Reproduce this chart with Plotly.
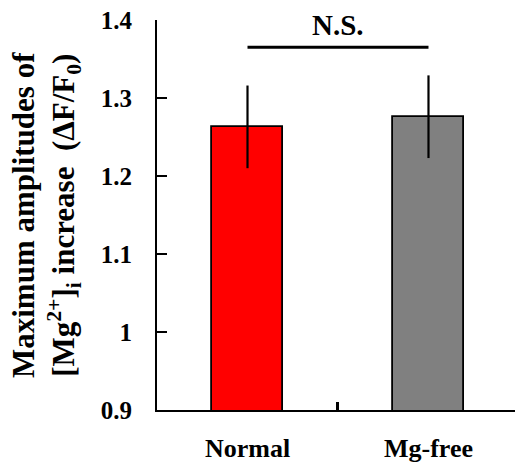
import plotly.graph_objects as go

categories = ["Normal", "Mg-free"]
means = [1.263, 1.276]
errors = [0.053, 0.053]
bar_colors = ["#ff0000", "#808080"]
y_ticks = [0.9, 1.0, 1.1, 1.2, 1.3, 1.4]
y_tick_labels = ["0.9", "1", "1.1", "1.2", "1.3", "1.4"]
category_boundaries = [0.5]
ns_level = 1.365
ns_label_level = 1.393
ns_label = "N.S."

FONT = "'Liberation Serif', 'Times New Roman', 'DejaVu Serif', serif"
x_pos = list(range(len(categories)))
x_range = [-0.5, 1.478]

fig = go.Figure()
fig.add_trace(go.Bar(
    x=x_pos, y=means, width=0.39,
    marker=dict(color=bar_colors, line=dict(color="black", width=1.8)),
    error_y=dict(type="data", array=errors, visible=True, color="black",
                 thickness=2.2, width=0),
))
fig.add_trace(go.Scatter(
    x=[x_pos[0], x_pos[1]], y=[ns_level, ns_level], mode="lines",
    line=dict(color="black", width=3), cliponaxis=False, hoverinfo="skip",
    xaxis="x2",
))
fig.add_annotation(
    x=(x_pos[0] + x_pos[1]) / 2, y=ns_label_level, text="<b>" + ns_label + "</b>",
    showarrow=False, font=dict(family=FONT, size=29, color="black"),
    xanchor="center", yanchor="middle",
)
fig.add_annotation(
    xref="paper", yref="paper", x=0, y=0.5, xanchor="center", yanchor="middle",
    xshift=-111, textangle=-90, showarrow=False,
    text="<b>Maximum amplitudes of<br>[Mg<sup>2+</sup>]<sub>i</sub> increase&nbsp;&nbsp;(ΔF/F<sub>0</sub>)</b>",
    font=dict(family=FONT, size=31, color="black"),
)

fig.update_layout(
    width=515, height=466,
    margin=dict(l=157, r=0, t=20, b=56),
    paper_bgcolor="white", plot_bgcolor="white",
    showlegend=False,
    bargap=0,
    font=dict(family=FONT, color="black"),
    xaxis=dict(
        range=x_range, tickvals=x_pos,
        ticktext=["<b>" + c + "</b>" for c in categories],
        ticks="", showline=True, linecolor="black", linewidth=2.2,
        showgrid=False, zeroline=False,
        tickfont=dict(family=FONT, size=26, color="black"),
        ticklabelstandoff=14,
    ),
    xaxis2=dict(overlaying="x", anchor="y", side="bottom", range=x_range,
                tickmode="array", tickvals=category_boundaries,
                ticktext=[""], ticks="inside", ticklen=8,
                tickwidth=2.5, tickcolor="black", showticklabels=True,
                showline=False, showgrid=False, zeroline=False),
    yaxis=dict(
        range=[0.9, 1.4], tickvals=y_ticks,
        ticktext=["<b>" + t + "</b>" for t in y_tick_labels],
        ticks="inside", ticklen=10, tickwidth=2, tickcolor="black",
        showline=True, linecolor="black", linewidth=2.2,
        showgrid=False, zeroline=False,
        tickfont=dict(family=FONT, size=25, color="black"),
        ticklabelstandoff=18,
    ),
)

fig.write_html("out.html")
